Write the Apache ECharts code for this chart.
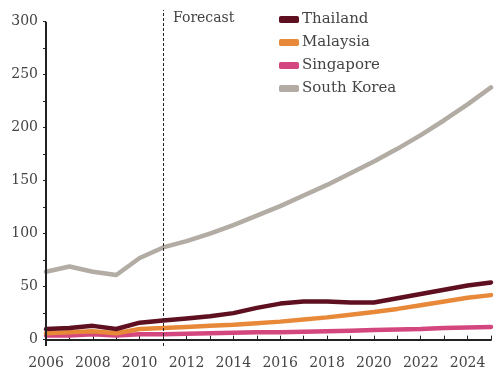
<!DOCTYPE html>
<html>
<head>
<meta charset="utf-8">
<script src="https://cdn.jsdelivr.net/npm/echarts@6/dist/echarts.min.js"></script>
<style>
    html, body { margin: 0; padding: 0; background: #fff; }
    #chart { width: 496px; height: 378px; }
</style>
</head>
<body>
<div id="chart"></div>
<script>
// годы и значения по странам
const years = [2006, 2007, 2008, 2009, 2010, 2011, 2012, 2013, 2014, 2015,
               2016, 2017, 2018, 2019, 2020, 2021, 2022, 2023, 2024, 2025];
const thailand = [10, 11, 13, 10, 16, 18, 20, 22, 25, 30, 34, 36, 36, 35, 35, 39, 43, 47, 51, 54];
const malaysia = [6, 7, 8, 6, 10, 11, 12, 13, 14, 15.5, 17, 19, 21, 23.5, 26, 29, 32.5, 36, 39.5, 42];
const singapore = [4, 4, 5, 4, 5, 5, 5.5, 6, 6.5, 7, 7, 7.5, 8, 8.5, 9, 9.5, 10, 11, 11.5, 12];
const southKorea = [64, 69, 64, 61, 77, 87, 93, 100, 108, 117, 126, 136, 146, 157, 168, 180, 193, 207, 222, 238];

const xLabels = [2006, 2008, 2010, 2012, 2014, 2016, 2018, 2020, 2022, 2024];
const yLabels = [0, 50, 100, 150, 200, 250, 300];
const yTicks = [0, 25, 50, 75, 100, 125, 150, 175, 200, 225, 250, 275, 300];
const forecastYear = 2011;

const font = 'DejaVu Serif';
const textColor = '#444';
const axisColor = '#222';

const chart = echarts.init(document.getElementById('chart'));

const pairs = (arr) => years.map((y, i) => [y, arr[i]]);

const mkSeries = (name, data, color) => ({
    name,
    type: 'line',
    data: pairs(data),
    symbol: 'none',
    lineStyle: { color, width: 4.5, cap: 'round', join: 'round' },
    itemStyle: { color }
});

// шкала Y чуть выше 300, чтобы пунктир "Forecast" доходил до верха
const option = {
    animation: false,
    grid: { left: 46, right: 5, top: 10, bottom: 32 },
    legend: {
        orient: 'vertical',
        left: 274,
        top: 7,
        itemWidth: 20,
        itemHeight: 7,
        itemGap: 8,
        icon: 'roundRect',
        textStyle: { fontFamily: font, fontSize: 15, color: textColor, padding: [0, 0, 0, -2] },
        data: ['Thailand', 'Malaysia', 'Singapore', 'South Korea']
    },
    xAxis: {
        type: 'value',
        min: 2006,
        max: 2025,
        interval: 1,
        splitLine: { show: false },
        axisLine: { lineStyle: { color: axisColor, width: 2 } },
        axisTick: { inside: true, length: 4, lineStyle: { color: axisColor } },
        axisLabel: {
            customValues: xLabels,
            formatter: (v) => String(v),
            fontFamily: font,
            fontSize: 14,
            color: textColor,
            margin: 10
        }
    },
    yAxis: {
        type: 'value',
        min: -6,
        max: 311,
        splitLine: { show: false },
        axisLine: { show: false },
        axisTick: { show: true, customValues: yTicks, length: 3, lineStyle: { color: axisColor } },
        axisLabel: {
            customValues: yLabels,
            fontFamily: font,
            fontSize: 14,
            color: textColor,
            margin: 8
        }
    },
    graphic: [{
        type: 'text',
        left: 173,
        top: 11,
        style: { text: 'Forecast', fontFamily: font, fontSize: 14, fill: textColor }
    }],
    series: [
        mkSeries('South Korea', southKorea, '#b2aca4'),
        mkSeries('Singapore', singapore, '#d4467e'),
        mkSeries('Malaysia', malaysia, '#e8893a'),
        Object.assign(mkSeries('Thailand', thailand, '#5e1020'), {
            markLine: {
                silent: true,
                symbol: 'none',
                label: { show: false },
                data: [
                    // пунктир прогноза
                    [{ coord: [forecastYear, -6], lineStyle: { color: axisColor, type: [3, 2], width: 1 } },
                     { coord: [forecastYear, 311] }],
                    // ось Y от 0 до 300
                    [{ coord: [2006, -6], lineStyle: { color: axisColor, type: 'solid', width: 2 } },
                     { coord: [2006, 300] }]
                ]
            }
        })
    ]
};

chart.setOption(option);
</script>
</body>
</html>
